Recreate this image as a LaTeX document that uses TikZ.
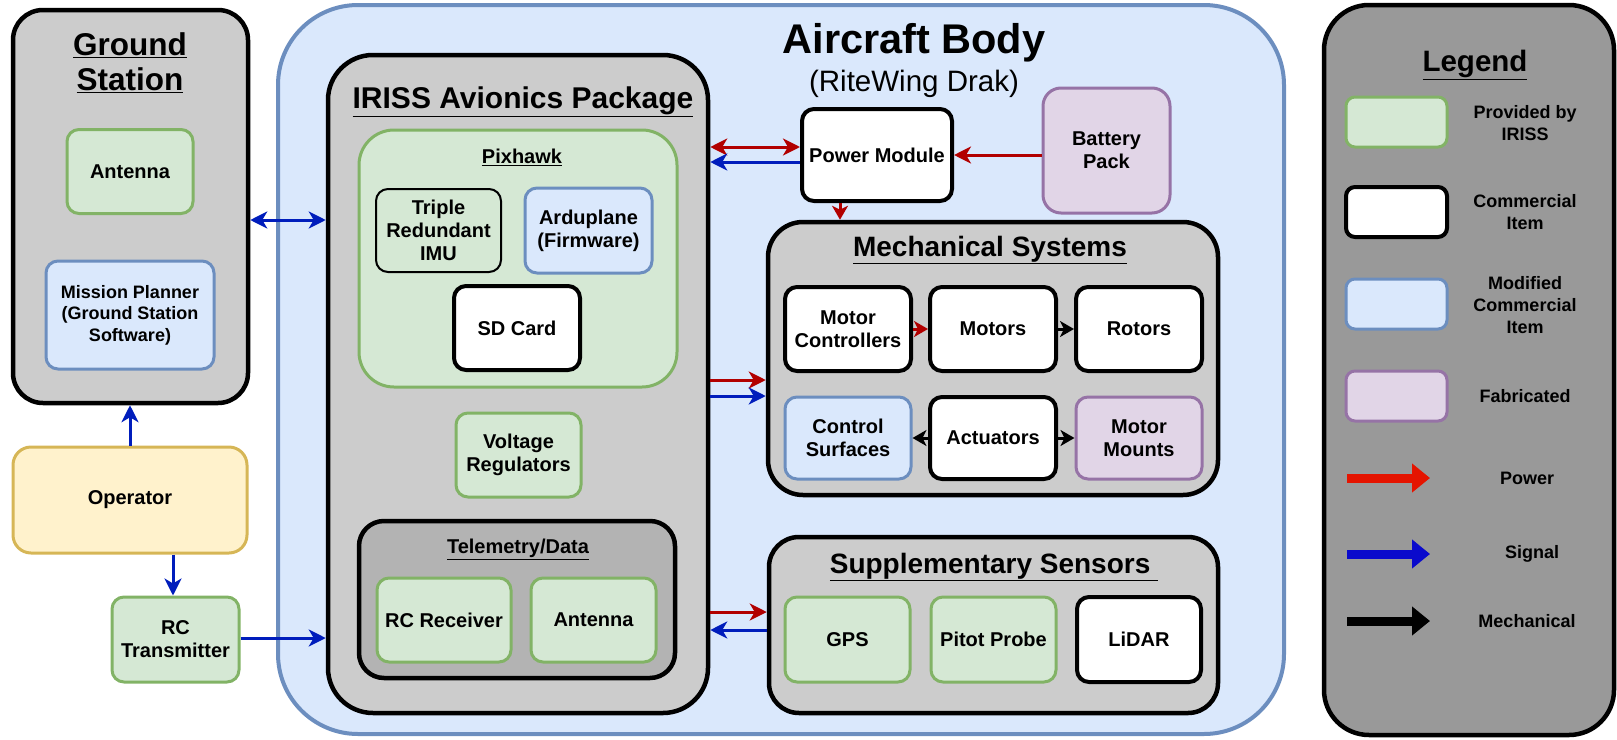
\documentclass[tikz,border=0pt]{standalone}
\usepackage{fontspec}
\setmainfont{Liberation Sans}
\usetikzlibrary{arrows.meta}
\definecolor{cgray}{HTML}{CCCCCC}
\definecolor{tgray}{HTML}{B3B3B3}
\definecolor{lgray}{HTML}{999999}
\definecolor{gfill}{HTML}{D5E8D4}
\definecolor{gline}{HTML}{82B366}
\definecolor{bfill}{HTML}{DAE8FC}
\definecolor{bline}{HTML}{6C8EBF}
\definecolor{pfill}{HTML}{E1D5E7}
\definecolor{pline}{HTML}{9673A6}
\definecolor{yfill}{HTML}{FFF2CC}
\definecolor{yline}{HTML}{D6B656}
\definecolor{pred}{HTML}{B20000}
\definecolor{sblue}{HTML}{001DBC}
\definecolor{lred}{HTML}{E51400}
\definecolor{lblue}{HTML}{0A0ACC}
\begin{document}
\begin{tikzpicture}[x=1pt,y=-1pt,
  >={Stealth[length=17pt,width=17pt,inset=5pt]},
  lbl/.style={font=\fontsize{20}{23}\selectfont\bfseries, align=center},
  box/.style={lbl, rounded corners=12, inner sep=0pt, minimum width=126, minimum height=84},
  grn/.style={box, fill=gfill, draw=gline, line width=3},
  blu/.style={box, fill=bfill, draw=bline, line width=3},
  pur/.style={box, fill=pfill, draw=pline, line width=3},
  wht/.style={box, fill=white, draw=black, line width=4},
  cont/.style={fill=cgray, draw=black, line width=4.5, inner sep=0pt},
  ttl/.style={font=\fontsize{28}{33}\selectfont\bfseries, align=center, inner sep=0pt},
  legtxt/.style={font=\fontsize{18}{22}\selectfont\bfseries, align=center, inner sep=0pt},
  pw/.style={draw=pred, line width=3},
  sg/.style={draw=sblue, line width=3},
  mk/.style={draw=black, line width=3},
  smallhead/.style={>={Stealth[length=14pt,width=16pt,inset=4pt]}},
]
\useasboundingbox (0,0) rectangle (1617,739);

% Aircraft body
\node[fill=bfill, draw=bline, line width=4, rounded corners=80, minimum width=1006, minimum height=729, inner sep=0pt] (body) at (781,369.5) {};
\node[font=\fontsize{41.5}{48}\selectfont\bfseries] (bodyt) at (914,43) {Aircraft Body};
\node[font=\fontsize{29.5}{34}\selectfont] (bodys) at (914,84) {(RiteWing Drak)};

% Ground station
\node[cont, rounded corners=30, minimum width=235, minimum height=393] (gs) at (130.5,206.5) {};
\node[ttl, font=\fontsize{31.5}{35}\selectfont\bfseries] (gst) at (130,63) {\underline{Ground}\\\underline{Station}};
\node[grn] (gsant) at (130,171.5) {Antenna};
\node[blu, minimum width=168, minimum height=108, font=\fontsize{18}{21.5}\selectfont\bfseries] (mp) at (130,315) {Mission Planner\\(Ground Station\\Software)};

% Operator and RC transmitter
\node[box, fill=yfill, draw=yline, line width=3, minimum width=234, minimum height=106, rounded corners=18] (op) at (130,500) {Operator};
\node[grn, minimum width=127, minimum height=85] (rc) at (175.5,639.5) {RC\\Transmitter};

% Avionics package
\node[cont, rounded corners=45, minimum width=380, minimum height=658] (avi) at (518,384) {};
\node[ttl, font=\fontsize{30}{35}\selectfont\bfseries] (avit) at (523,102) {\underline{IRISS Avionics Package}};
\node[grn, rounded corners=35, minimum width=318, minimum height=257] (px) at (518,258.5) {};
\node[lbl, inner sep=0pt] (pxt) at (522,157) {\underline{Pixhawk}};
\node[box, fill=gfill, draw=black, line width=2, minimum width=125, minimum height=83] (imu) at (438.5,230.5) {Triple\\Redundant\\IMU};
\node[blu, minimum width=127, minimum height=85] (ardu) at (588.5,230.5) {Arduplane\\(Firmware)};
\node[wht] (sd) at (517,328) {SD Card};
\node[grn, minimum width=125] (vr) at (518.5,455) {Voltage\\Regulators};
\node[cont, fill=tgray, rounded corners=25, minimum width=316, minimum height=157] (tel) at (517,599.5) {};
\node[lbl, inner sep=0pt] (telt) at (518,549) {\underline{Telemetry/Data}};
\node[grn, minimum width=134] (rcr) at (444,620) {RC Receiver};
\node[grn, minimum width=125] (tant) at (593.5,620) {Antenna};

% Power module and battery
\node[wht, minimum width=150, minimum height=92] (pm) at (877,155) {Power Module};
\node[pur, minimum width=127, minimum height=125, rounded corners=18] (bat) at (1106.5,150.5) {Battery\\Pack};

% Mechanical systems
\node[cont, rounded corners=35, minimum width=450, minimum height=273] (mech) at (993,358.5) {};
\node[ttl] (mecht) at (990,250) {\underline{Mechanical Systems}};
\node[wht] (mctl) at (848,329) {Motor\\Controllers};
\node[wht] (mot) at (993,329) {Motors};
\node[wht] (rot) at (1139,329) {Rotors};
\node[blu, minimum height=82] (cs) at (848,438) {Control\\Surfaces};
\node[wht, minimum height=82] (act) at (993,438) {Actuators};
\node[pur, minimum height=82] (mm) at (1139,438) {Motor\\Mounts};

% Supplementary sensors
\node[cont, rounded corners=30, minimum width=449, minimum height=176] (sup) at (993.5,625) {};
\node[ttl] (supt) at (994,567) {\underline{Supplementary Sensors\ }};
\node[grn, minimum width=125, minimum height=85] (gps) at (847.5,639.5) {GPS};
\node[grn, minimum width=125, minimum height=85] (pit) at (993.5,639.5) {Pitot Probe};
\node[wht, minimum width=124, minimum height=85] (lid) at (1139,639.5) {LiDAR};

% Legend
\node[cont, fill=lgray, rounded corners=45, minimum width=290, minimum height=730] (leg) at (1469,370) {};
\node[ttl, font=\fontsize{29.5}{34}\selectfont\bfseries] (legt) at (1475,65) {\underline{Legend}};
\node[box, fill=gfill, draw=gline, line width=3, rounded corners=9, minimum width=101, minimum height=50] (lg1) at (1396.5,122) {};
\node[box, fill=white, draw=black, line width=4, rounded corners=9, minimum width=101, minimum height=50] (lg2) at (1396.5,212) {};
\node[box, fill=bfill, draw=bline, line width=3, rounded corners=9, minimum width=101, minimum height=50] (lg3) at (1396.5,304) {};
\node[box, fill=pfill, draw=pline, line width=3, rounded corners=9, minimum width=101, minimum height=50] (lg4) at (1396.5,396) {};
\node[legtxt] (lt1) at (1525,123) {Provided by\\IRISS};
\node[legtxt] (lt2) at (1525,212) {Commercial\\Item};
\node[legtxt] (lt3) at (1525,305) {Modified\\Commercial\\Item};
\node[legtxt] (lt4) at (1525,396) {Fabricated};
\coordinate (la1) at (1347,478); \coordinate (la2) at (1430,478);
\coordinate (lb1) at (1347,554); \coordinate (lb2) at (1430,554);
\coordinate (lc1) at (1347,621); \coordinate (lc2) at (1430,621);
\draw[line width=9, draw=lred, -{Triangle[length=18pt,width=28pt]}] (la1) -- (la2);
\draw[line width=9, draw=lblue, -{Triangle[length=18pt,width=28pt]}] (lb1) -- (lb2);
\draw[line width=9, draw=black, -{Triangle[length=18pt,width=28pt]}] (lc1) -- (lc2);
\node[legtxt] (lt5) at (1527,478) {Power};
\node[legtxt] (lt6) at (1532,554) {Signal};
\node[legtxt] (lt7) at (1527,621) {Mechanical};

% Connectors
\draw[sg,<->] (gs.east |- 0,220) -- (avi.west |- 0,220);
\draw[sg,->] (op.north) -- (op.north |- gs.south);
\draw[sg,->] (op.south -| 173,0) -- (rc.north -| 173,0);
\draw[sg,->] (rc.east |- 0,638) -- (avi.west |- 0,638);
\draw[pw,<->] (avi.east |- 0,147) -- (pm.west |- 0,147);
\draw[sg,->] (pm.west |- 0,162) -- (avi.east |- 0,162);
\draw[pw,->] (bat.west |- 0,155) -- (pm.east |- 0,155);
\draw[pw,->,smallhead] (pm.south -| 840,0) -- (mech.north -| 840,0);
\draw[pw,->] (avi.east |- 0,380) -- (mech.west |- 0,380);
\draw[sg,->] (avi.east |- 0,396) -- (mech.west |- 0,396);
\draw[pw,->] (avi.east |- 0,612) -- (sup.west |- 0,612);
\draw[sg,->] (sup.west |- 0,630) -- (avi.east |- 0,630);
\draw[pw,->,smallhead] (mctl.east) -- (mot.west);
\draw[mk,->,smallhead] (mot.east) -- (rot.west);
\draw[mk,->,smallhead] (act.west) -- (cs.east);
\draw[mk,->,smallhead] (act.east) -- (mm.west);
\end{tikzpicture}
\end{document}
